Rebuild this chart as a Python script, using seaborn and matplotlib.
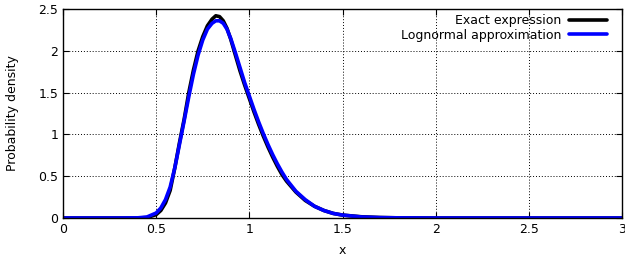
import numpy as np
import pandas as pd
import seaborn as sns
import matplotlib
matplotlib.use("Agg")
import matplotlib.pyplot as plt
from matplotlib.ticker import FuncFormatter

# Values
x_exact = [0, 0.1, 0.2, 0.3, 0.4, 0.45, 0.5, 0.525, 0.55, 0.575, 0.6, 0.625, 0.65,
           0.675, 0.7, 0.725, 0.75, 0.775, 0.8, 0.82, 0.84, 0.86, 0.88, 0.9, 0.925,
           0.95, 0.975, 1.0, 1.025, 1.05, 1.075, 1.1, 1.125, 1.15, 1.175, 1.2, 1.25,
           1.3, 1.35, 1.4, 1.45, 1.5, 1.6, 1.7, 1.8, 2.0, 2.5, 3.0]
y_exact = [0, 0, 0, 0, 0.0, 0.005, 0.04, 0.09, 0.18, 0.33, 0.6, 0.9, 1.18,
           1.5, 1.77, 2.0, 2.17, 2.30, 2.38, 2.42, 2.41, 2.36, 2.27, 2.14, 1.95,
           1.76, 1.59, 1.43, 1.27, 1.12, 0.98, 0.85, 0.73, 0.62, 0.52, 0.44, 0.31,
           0.21, 0.14, 0.09, 0.055, 0.035, 0.015, 0.006, 0.002, 0, 0, 0]

x_logn = x_exact
y_logn = [0, 0, 0, 0, 0.002, 0.012, 0.06, 0.12, 0.22, 0.37, 0.6, 0.88, 1.16,
          1.45, 1.72, 1.95, 2.13, 2.26, 2.33, 2.36, 2.36, 2.33, 2.26, 2.15, 1.98,
          1.8, 1.62, 1.46, 1.3, 1.15, 1.01, 0.88, 0.76, 0.65, 0.55, 0.46, 0.32,
          0.22, 0.14, 0.09, 0.055, 0.035, 0.013, 0.005, 0.002, 0, 0, 0]

sns.set_style("ticks", {"text.color": "black", "axes.labelcolor": "black",
                        "xtick.color": "black", "ytick.color": "black"})
plt.rcParams['font.family'] = ['DejaVu Sans']

fig = plt.figure(figsize=(6.25, 2.6), dpi=100)
ax = fig.add_axes([0.1008, 0.1615, 0.8944, 0.8035])

sns.lineplot(x=x_exact, y=y_exact, color="black", lw=2.6, label="Exact expression", ax=ax)
sns.lineplot(x=x_logn, y=y_logn, color="#0000ff", lw=2.6, label="Lognormal approximation", ax=ax)

ax.set_xlim(0, 3)
ax.set_ylim(0, 2.5)
ax.set_xticks([0, 0.5, 1, 1.5, 2, 2.5, 3])
ax.set_yticks([0, 0.5, 1, 1.5, 2, 2.5])
fmt = FuncFormatter(lambda v, p: "%g" % v)
ax.xaxis.set_major_formatter(fmt)
ax.yaxis.set_major_formatter(fmt)
ax.grid(True, color="black", linestyle=(0, (1, 2)), lw=0.7)
ax.tick_params(direction="in", top=True, right=True, labelsize=9, length=4,
               width=0.8, colors="black")
for s in ax.spines.values():
    s.set_linewidth(1.0)
    s.set_color("black")

ax.set_xlabel("x", fontsize=9, labelpad=6, color="black")
ax.set_ylabel("Probability density", fontsize=9, labelpad=14, color="black")

ax.legend(loc="upper right", bbox_to_anchor=(0.995, 1.035), frameon=False,
          markerfirst=False, fontsize=9, handlelength=3.0, borderaxespad=0.6,
          labelspacing=0.1, handletextpad=0.6)

fig.savefig("out.png", dpi=100)
